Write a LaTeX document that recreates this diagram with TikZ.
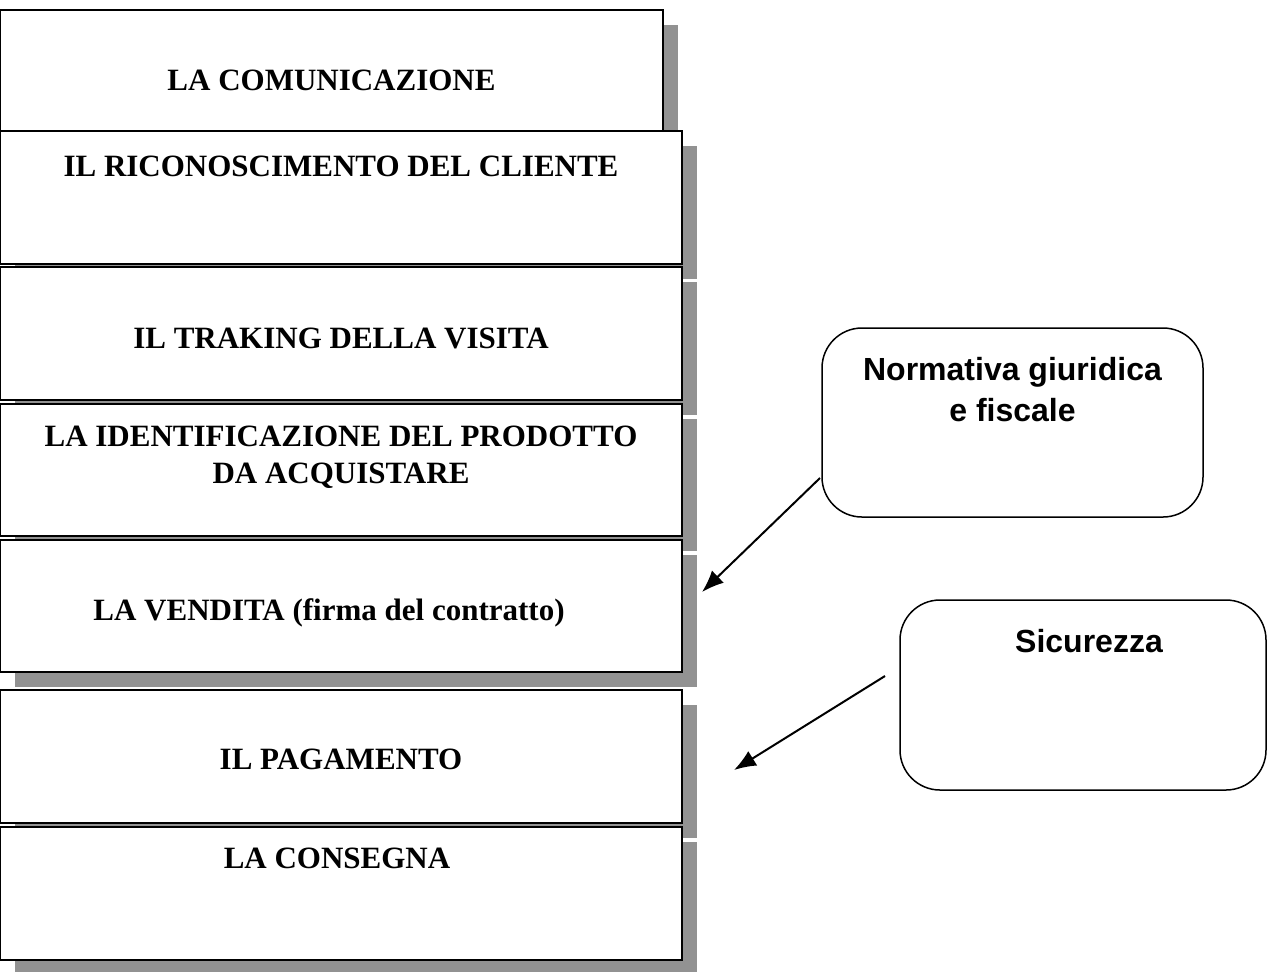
\documentclass[tikz,border=0pt]{standalone}
\usepackage{fontspec}
\setmainfont{Liberation Serif}
\setsansfont{Liberation Sans}
\usetikzlibrary{positioning}
\usetikzlibrary{shadows}
\usetikzlibrary{arrows.meta}
\definecolor{shadowgray}{HTML}{929292}
\begin{document}
\begin{tikzpicture}[>={Latex[length=11pt,width=8.5pt]},
		stage/.style={rectangle,draw=black,line width=1pt,fill=white,inner sep=0pt,outer sep=0pt,minimum width=341pt,minimum height=66.5pt,
			drop shadow={shadow xshift=7.5pt,shadow yshift=-7.5pt,fill=shadowgray,opacity=1}},
		stagetext/.style={anchor=base,align=center,font=\fontsize{15.5}{18.5}\selectfont\bfseries},
		note/.style={rectangle,rounded corners=20pt,draw=black,line width=0.75pt,outer sep=0pt,minimum width=190.5pt,minimum height=94.5pt},
		notetext/.style={anchor=base,align=center,font=\fontsize{16}{20.5}\selectfont\sffamily\bfseries}]
		\useasboundingbox (0,0) rectangle (634pt,-485.5pt);
		
		\node[stage,anchor=north west,minimum width=331.5pt,minimum height=60.5pt] (comm) at (0,-5pt) {};
		\node[stage]  (ricon)  [below=0pt of comm.south west,anchor=north west]     {};
		\node[stage]  (trak)   [below=1.5pt of ricon.south west,anchor=north west]  {};
		\node[stage,minimum height=66pt]  (ident)  [below=2pt of trak.south west,anchor=north west]  {};
		\node[stage,minimum height=66pt]  (vend)   [below=2pt of ident.south west,anchor=north west] {};
		\node[stage]  (pag)    [below=9pt of vend.south west,anchor=north west]     {};
		\node[stage]  (cons)   [below=2pt of pag.south west,anchor=north west]      {};
		
		\node[stagetext] (commtext)  at ([yshift=-40pt]comm.north)    {LA COMUNICAZIONE};
		\node[stagetext] (ricontext) at ([yshift=-22.5pt]ricon.north) {IL RICONOSCIMENTO DEL CLIENTE};
		\node[stagetext] (traktext)  at ([yshift=-40.5pt]trak.north)  {IL TRAKING DELLA VISITA};
		\node[stagetext] (identtext) at ([yshift=-39.5pt]ident.north) {LA IDENTIFICAZIONE DEL PRODOTTO\\DA ACQUISTARE};
		\node[stagetext] (vendtext)  at ([yshift=-40pt,xshift=-6pt]vend.north) {LA VENDITA (firma del contratto)};
		\node[stagetext] (pagtext)   at ([yshift=-39.5pt]pag.north)   {IL PAGAMENTO};
		\node[stagetext] (constext)  at ([yshift=-20.5pt,xshift=-2pt]cons.north) {LA CONSEGNA};
		
		\node[note,anchor=north west] (norm) at (411pt,-164pt) {};
		\node[note,anchor=north west,minimum width=183pt,minimum height=95pt] (sic) at (450pt,-300pt) {};
		\node[notetext] (normtext) at ([yshift=-46.5pt]norm.north) {Normativa giuridica\\e fiscale};
		\node[notetext] (sictext)  at ([yshift=-26pt,xshift=3pt]sic.north) {Sicurezza};
		
		\coordinate (lawfrom)  at ([shift={(-1pt,19.5pt)}]norm.south west);
		\coordinate (lawto)    at ([shift={(10pt,7pt)}]vend.east);
		\coordinate (safefrom) at ([shift={(-7.5pt,9.5pt)}]sic.west);
		\coordinate (safeto)   at ([shift={(26pt,-6.75pt)}]pag.east);
		
		\path[->,line width=1pt]
		(lawfrom) edge (lawto)
		(safefrom) edge (safeto);
\end{tikzpicture}
\end{document}
